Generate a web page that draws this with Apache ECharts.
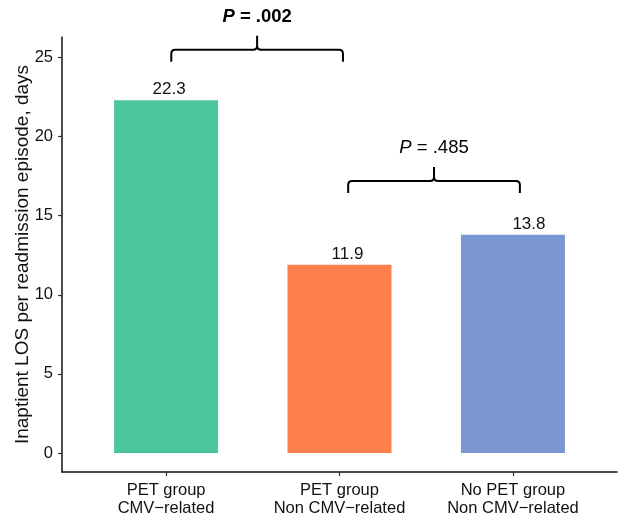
<!DOCTYPE html>
<html>
<head>
<meta charset="utf-8">
<script src="https://cdn.jsdelivr.net/npm/echarts@6/dist/echarts.min.js"></script>
<style>html,body{margin:0;padding:0;background:#fff;}#c{width:622px;height:518px;}</style>
</head>
<body>
<div id="c"></div>
<script>
const categories = ['PET group\nCMV\u2212related', 'PET group\nNon CMV\u2212related', 'No PET group\nNon CMV\u2212related'];
const categoryPos = [1, 2, 3];
const losValues = [22.3, 11.9, 13.8];
const barColors = ['#4cc49c', '#fe7f4b', '#7c96d1'];
const yTicks = [0, 5, 10, 15, 20, 25];
const bracketStart = [1.03, 2.05];
const bracketEnd = [2.02, 3.04];
const bracketLevel = [25.5, 17.2];
const pValues = ['.002', '.485'];
const pBold = [true, false];

const labelShift = [3, 8, 16];

const chart = echarts.init(document.getElementById('c'), null, {renderer: 'canvas'});
const FONT = 'Liberation Sans, Arial, Helvetica, sans-serif';

const barData = categoryPos.map((x, i) => ({
  value: [x, losValues[i]],
  itemStyle: {color: barColors[i]},
  label: {offset: [labelShift[i], 0]}
}));

const bracketData = bracketStart.map((s, i) => [s, bracketEnd[i], bracketLevel[i], i]);

chart.setOption({
  animation: false,
  backgroundColor: '#fff',
  grid: {left: 62, right: 5, top: 37, bottom: 46, containLabel: false, outerBoundsMode: 'none'},
  xAxis: {
    type: 'value', min: 0.4, max: 3.6,
    splitLine: {show: false},
    axisLine: {onZero: false, lineStyle: {color: '#111', width: 1.5}},
    axisTick: {show: true, length: 4, customValues: categoryPos, lineStyle: {color: '#333', width: 1.2}},
    axisLabel: {
      customValues: categoryPos,
      formatter: v => categories[Math.round(v) - 1],
      color: '#111', fontSize: 16.5, lineHeight: 18.5, fontFamily: FONT, margin: 9
    }
  },
  yAxis: {
    type: 'value', min: -1.2, max: 26.3,
    splitLine: {show: false},
    axisLine: {show: true, onZero: false, lineStyle: {color: '#111', width: 1.5}},
    axisTick: {show: true, length: 4, customValues: yTicks, lineStyle: {color: '#333', width: 1.2}},
    axisLabel: {customValues: yTicks, color: '#111', fontSize: 16.5, fontFamily: FONT, margin: 9},
    name: 'Inaptient LOS per readmission episode, days',
    nameLocation: 'middle', nameGap: 30, nameMoveOverlap: false,
    nameTextStyle: {color: '#111', fontSize: 19, fontFamily: FONT}
  },
  series: [
    {
      type: 'bar',
      data: barData,
      barWidth: 104,
      label: {
        show: true, position: 'top', distance: 2,
        formatter: p => p.value[1].toFixed(1),
        color: '#111', fontSize: 17, fontFamily: FONT
      }
    },
    {
      type: 'custom',
      clip: false,
      data: bracketData,
      renderItem: function (params, api) {
        const p1 = api.coord([api.value(0), api.value(2)]);
        const p2 = api.coord([api.value(1), api.value(2)]);
        const idx = api.value(3);
        const x1 = p1[0], x2 = p2[0], y = p1[1];
        const xm = (x1 + x2) / 2;
        const r = 4, drop = 12, tip = 14;
        const d = 'M' + x1 + ',' + (y + drop) + ' L' + x1 + ',' + (y + r) +
          ' Q' + x1 + ',' + y + ' ' + (x1 + r) + ',' + y +
          ' L' + (xm - r) + ',' + y +
          ' Q' + xm + ',' + y + ' ' + xm + ',' + (y - r) +
          ' L' + xm + ',' + (y - tip) +
          ' M' + xm + ',' + (y - r) +
          ' Q' + xm + ',' + y + ' ' + (xm + r) + ',' + y +
          ' L' + (x2 - r) + ',' + y +
          ' Q' + x2 + ',' + y + ' ' + x2 + ',' + (y + r) +
          ' L' + x2 + ',' + (y + drop);
        const bold = pBold[idx];
        return {
          type: 'group',
          children: [
            {type: 'path', shape: {pathData: d}, style: {stroke: '#000', fill: null, lineWidth: 2}},
            {
              type: 'text', x: xm, y: y - 33,
              style: {
                text: '{i|P}{n| = ' + pValues[idx] + '}',
                align: 'center', verticalAlign: 'middle',
                rich: {
                  i: {fontStyle: 'italic', fontWeight: bold ? 'bold' : 'normal', fontSize: 18.5, fontFamily: FONT, fill: '#000'},
                  n: {fontWeight: bold ? 'bold' : 'normal', fontSize: 18.5, fontFamily: FONT, fill: '#000'}
                }
              }
            }
          ]
        };
      }
    }
  ]
});
</script>
</body>
</html>
